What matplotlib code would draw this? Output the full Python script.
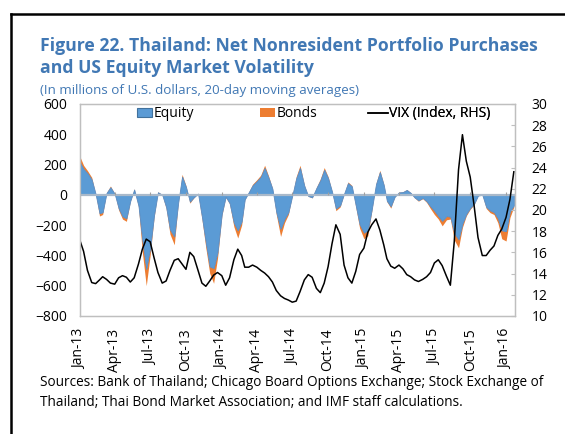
import matplotlib
matplotlib.use("Agg")
import matplotlib.pyplot as plt
import matplotlib.dates as mdates
from matplotlib.lines import Line2D
import pandas as pd

plt.rcParams['font.family'] = ['Open Sans', 'DejaVu Sans']

# data: 20-day moving averages, read at the 1st, 11th and 21st of each month
months = pd.date_range('2013-01-01', '2016-01-01', freq='MS')
dates = [mo + pd.Timedelta(days=d) for mo in months for d in (0, 10, 20)]

equity = [217, 170, 142, 100, 5, -122, -115, 12, 50, 6,
          -88, -142, -155, -40, 35, -72, -300, -490, -350, -135,
          17, 0, -80, -230, -275, -52, 120, 52, -45, -17,
          8, -145, -315, -473, -484, -380, -125, -13, -54, -185,
          -235, -175, -30, 16, 62, 90, 118, 177, 113, 40,
          -115, -225, -160, -115, -5, 108, 177, 59, -8, -17,
          45, 95, 165, 110, 22, -90, -70, 7, 77, 56,
          -70, -195, -250, -235, -98, 70, 150, 64, -40, -76,
          -13, 16, 18, 32, 13, -17, -36, -21, -42, -77,
          -105, -140, -172, -140, -145, -253, -295, -190, -126, -87,
          -59, -5, 0, -80, -103, -115, -155, -235, -240, -110,
          -70]

bonds = [40, 25, 18, 15, 0, -18, -15, 3, 8, 2,
         -12, -18, -20, -5, 5, -8, -80, -110, -50, -15,
         3, 0, -10, -30, -55, -8, 15, 8, -10, -3,
         2, -15, -35, -45, -100, -40, -15, -2, -6, -25,
         -50, -25, -4, 2, 8, 10, 12, 18, 12, 5,
         -15, -50, -25, -15, 0, 12, 18, 6, -2, -3,
         5, 10, 15, 10, 3, -15, -10, 1, 8, 6,
         -10, -25, -40, -35, -12, 6, 12, 6, -5, -12,
         -2, 2, 2, 3, 2, -3, -6, -4, -8, -15,
         -25, -20, -33, -25, -15, -45, -55, -25, -12, -8,
         -6, 0, 0, -10, -15, -15, -30, -55, -65, -40,
         -10]

vix = [17.2, 16.1, 14.3, 13.15, 13.05, 13.4, 13.7, 13.45, 13.1, 13.0,
       13.6, 13.8, 13.65, 13.2, 13.6, 14.9, 16.3, 17.25, 17.0, 15.5,
       14.1, 13.1, 13.3, 14.3, 15.25, 15.4, 14.9, 14.4, 16.0, 15.6,
       14.3, 13.1, 12.8, 13.3, 13.85, 14.1, 13.8, 12.9, 13.6, 15.3,
       16.3, 15.7, 14.6, 14.6, 14.8, 14.6, 14.3, 14.05, 13.7, 13.2,
       12.4, 11.9, 11.65, 11.5, 11.3, 11.4, 12.3, 13.4, 13.9, 13.65,
       12.6, 12.2, 13.1, 14.65, 16.8, 18.6, 17.7, 14.8, 13.6, 13.1,
       14.2, 15.8, 16.4, 17.9, 18.6, 19.15, 18.1, 16.7, 15.4, 14.7,
       14.5, 14.8, 14.45, 13.9, 13.7, 13.4, 13.25, 13.45, 13.7, 14.1,
       15.0, 15.3, 14.75, 13.75, 12.9, 17.0, 23.8, 27.1, 24.6, 23.1,
       20.4, 17.4, 15.7, 15.7, 16.2, 16.6, 17.6, 18.2, 19.3, 21.0,
       23.6]

total = [e + b for e, b in zip(equity, bonds)]

title = "Figure 22. Thailand: Net Nonresident Portfolio Purchases\nand US Equity Market Volatility"
subtitle = "(In millions of U.S. dollars, 20-day moving averages)"
source = ("Sources: Bank of Thailand; Chicago Board Options Exchange; Stock Exchange of\n"
          "Thailand; Thai Bond Market Association; and IMF staff calculations.")

blue = '#5B9BD5'
orange = '#ED7D31'
grey = '#BFBFBF'
title_col = '#4178B4'

fig = plt.figure(figsize=(5.65, 4.34), dpi=100)
ax = fig.add_axes([0.141, 0.272, 0.7705, 0.4885])

bond_area = ax.fill_between(dates, equity, total, color=orange, lw=0, zorder=2)
eq_area = ax.fill_between(dates, 0, equity, facecolor=blue, edgecolor='#5A8AC0', lw=0.6,
                          zorder=3)
ax.axhline(0, color='#A9B9CA', lw=1.6, zorder=4)

ax.set_ylim(-800, 600)
ax.set_yticks(range(-800, 601, 200))
ax.set_xlim(pd.Timestamp('2013-01-01'), pd.Timestamp('2016-01-24'))
qticks = pd.date_range('2013-01-01', '2016-01-01', freq='QS')
ax.set_xticks(qticks)
ax.xaxis.set_major_formatter(mdates.DateFormatter('%b-%y'))
ax.vlines(qticks, 0, 20, color='#A0A0A0', lw=0.8, zorder=4)
ax.tick_params(axis='x', length=0, pad=9, labelsize=10, rotation=90)
ax.tick_params(axis='y', length=0, pad=9, labelsize=10)
for s in ax.spines.values():
    s.set_color(grey)
    s.set_linewidth(0.9)

ax2 = ax.twinx()
vix_line, = ax2.plot(dates, vix, color='black', lw=1.1)
ax2.set_ylim(10, 30)
ax2.set_yticks(range(10, 31, 2))
ax2.tick_params(axis='y', direction='in', length=3, color=grey, pad=12, labelsize=10)
for s in ax2.spines.values():
    s.set_color(grey)
    s.set_linewidth(0.9)

# legend entries placed one by one, as in the source chart
eq_patch = plt.Rectangle((0, 0), 1, 1, facecolor=blue, edgecolor='#41719C', lw=0.8)
entries = [(eq_patch, 'Equity', 0.132, 1.1),
           (bond_area, 'Bonds', 0.414, 1.1),
           (vix_line, 'VIX (Index, RHS)', 0.662, 1.45)]
for handle, label, xpos, hl in entries:
    lg = ax2.legend([handle], [label], loc='center left', bbox_to_anchor=(xpos, 0.953),
                    frameon=False, fontsize=10, handlelength=hl, handleheight=0.65,
                    handletextpad=0.1, borderpad=0, borderaxespad=0)
    ax2.add_artist(lg)

fig.text(0.071, 0.915, title, fontsize=12.7, fontweight='bold', color=title_col,
         va='top', ha='left', linespacing=1.28)
fig.text(0.071, 0.792, subtitle, fontsize=9.6, color=title_col, va='center', ha='left')
fig.text(0.071, 0.095, source, fontsize=9.8, color='black', va='center', ha='left',
         linespacing=1.45)

# black frame lines of the figure box
fig.add_artist(Line2D([10.5 / 565, 1], [1 - 14 / 434] * 2, color='black', lw=1.8,
                      transform=fig.transFigure))
fig.add_artist(Line2D([10.5 / 565] * 2, [0, 1 - 14 / 434], color='black', lw=1.8,
                      transform=fig.transFigure))

fig.savefig('out.png', dpi=100)
